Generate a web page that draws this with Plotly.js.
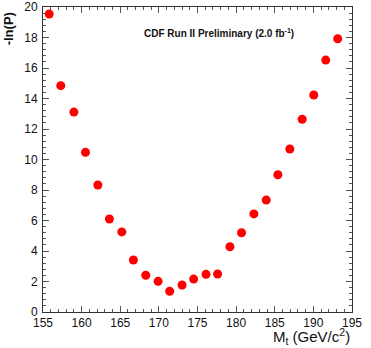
<!DOCTYPE html>
<html>
<head>
<meta charset="utf-8">
<script src="https://cdn.plot.ly/plotly-3.0.1.min.js"></script>
<style>
  body { margin: 0; background: #fff; }
  #chart { width: 371px; height: 348px; }
</style>
</head>
<body>
<div id="chart"></div>
<script>
// top mass scan points
const massVals = [155.8, 157.3, 159.0, 160.5, 162.1, 163.6, 165.2, 166.7, 168.3, 169.9,
                  171.4, 173.0, 174.5, 176.1, 177.6, 179.2, 180.7, 182.3, 183.9, 185.4,
                  186.95, 188.55, 190.05, 191.6, 193.15];
const nllVals = [19.54, 14.84, 13.11, 10.47, 8.33, 6.10, 5.25, 3.41, 2.41, 2.01,
                 1.36, 1.77, 2.16, 2.47, 2.49, 4.28, 5.20, 6.43, 7.34, 9.00,
                 10.69, 12.64, 14.23, 16.52, 17.92];
const xTicks = [155, 160, 165, 170, 175, 180, 185, 190, 195];
const yTicks = [0, 2, 4, 6, 8, 10, 12, 14, 16, 18, 20];

const font = "Liberation Sans, Arial, sans-serif";

const trace = {
    x: massVals, y: nllVals, type: "scatter", mode: "markers",
    marker: { color: "#ff0000", size: 9 },
    hoverinfo: "none"
};

const axisCommon = {
    showgrid: false, zeroline: false, showline: true, linecolor: "#333", linewidth: 1,
    mirror: "ticks", ticks: "inside", ticklen: 6, tickcolor: "#555",
    tickfont: { family: font, size: 12, color: "#111" }
};

const layout = {
    width: 371, height: 348,
    margin: { l: 43, r: 19, t: 7, b: 36 },
    paper_bgcolor: "#fff", plot_bgcolor: "#fff",
    showlegend: false,
    xaxis: Object.assign({}, axisCommon, {
        range: [155, 195], tickvals: xTicks, ticktext: xTicks.map(String),
        minor: { dtick: 1, ticks: "inside", ticklen: 3, tickcolor: "#555" }
    }),
    yaxis: Object.assign({}, axisCommon, {
        range: [0, 20], tickvals: yTicks, ticktext: yTicks.map(String), ticklabelstandoff: 2,
        minor: { dtick: 0.4, ticks: "inside", ticklen: 3, tickcolor: "#555" }
    }),
    annotations: [
        {
            text: "<b>CDF Run II Preliminary (2.0 fb<sup>-1</sup>)</b>",
            xref: "paper", yref: "paper", x: 0.32, y: 0.915,
            xanchor: "left", yanchor: "middle", showarrow: false,
            font: { family: font, size: 10, color: "#111" }
        },
        {
            text: "<b>-ln(P)</b>", textangle: -90,
            xref: "paper", yref: "paper", x: -0.08, y: 0.99,
            xanchor: "right", yanchor: "top", showarrow: false,
            font: { family: font, size: 13, color: "#111" }
        },
        {
            text: "M<sub>t</sub> (GeV/c<sup>2</sup>)",
            xref: "paper", yref: "paper", x: 1.0, y: -0.08,
            xanchor: "right", yanchor: "middle", showarrow: false,
            font: { family: font, size: 15, color: "#111" }
        }
    ]
};

Plotly.newPlot("chart", [trace], layout, { staticPlot: true });
</script>
</body>
</html>
